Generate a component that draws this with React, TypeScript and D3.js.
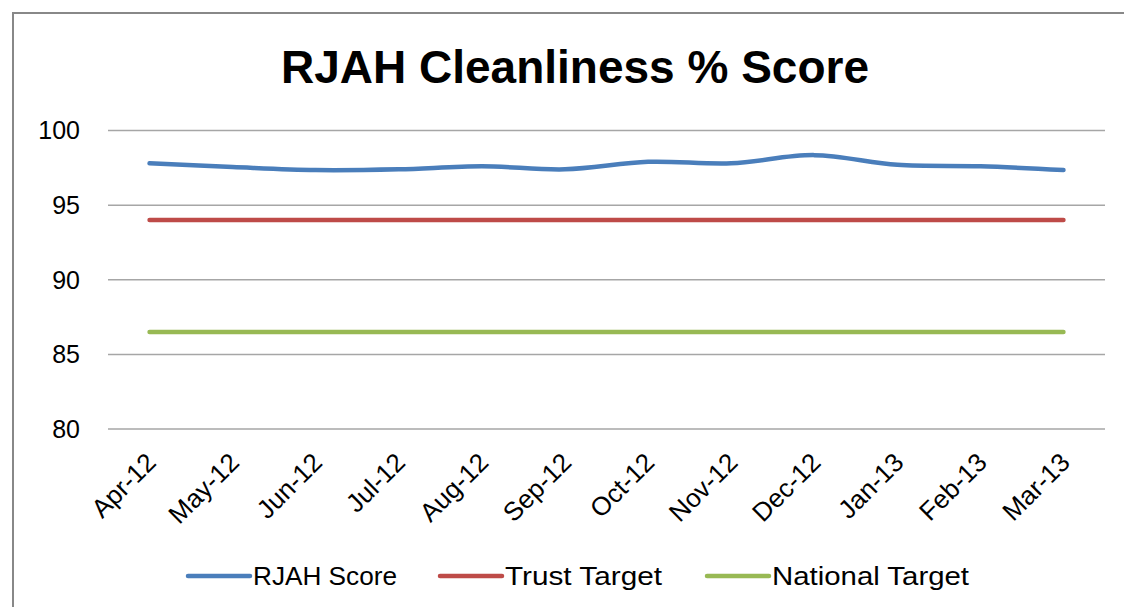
import React from "react";
import * as d3 from "d3";

const months = ["Apr-12", "May-12", "Jun-12", "Jul-12", "Aug-12", "Sep-12", "Oct-12", "Nov-12", "Dec-12", "Jan-13", "Feb-13", "Mar-13"];
const rjahScore = [97.8, 97.55, 97.35, 97.4, 97.6, 97.4, 97.9, 97.8, 98.35, 97.7, 97.6, 97.35];
const trustTarget = [94, 94, 94, 94, 94, 94, 94, 94, 94, 94, 94, 94];
const nationalTarget = [86.5, 86.5, 86.5, 86.5, 86.5, 86.5, 86.5, 86.5, 86.5, 86.5, 86.5, 86.5];
const yTicks = [80, 85, 90, 95, 100];
const seriesNames = ["RJAH Score", "Trust Target", "National Target"];
const colors = ["#4A7EBB", "#BE4B48", "#98B954"];

export default function App() {
  const W = 1124, H = 607;
  const left = 108, right = 1105, top = 130.5, bottom = 429;
  const x = d3.scaleBand<string>().domain(months).range([left, right]);
  const y = d3.scaleLinear().domain([80, 100]).range([bottom, top]);
  const cx = (m: string) => (x(m) as number) + x.bandwidth() / 2;
  const font = "'Liberation Sans', Arial, sans-serif";

  const series = [rjahScore, trustTarget, nationalTarget];
  const lineGen = (smooth: boolean) =>
    d3.line<number>()
      .x((_, i) => cx(months[i]))
      .y((v) => y(v))
      .curve(smooth ? d3.curveCatmullRom.alpha(0.5) : d3.curveLinear);

  const legendX = [188, 440, 707];
  const legendLen = [144, 157, 197];

  return (
    <svg width={W} height={H} style={{ position: "absolute", left: 0, top: 0, background: "#fff" }}>
      <rect x={0} y={0} width={W} height={H} fill="#fff" />
      <rect x={13} y={13} width={W + 20} height={H + 20} fill="none" stroke="#888" strokeWidth={2} />
      <text x={575} y={83} textAnchor="middle" fontFamily={font} fontWeight="bold" fontSize={46} fill="#000">
        RJAH Cleanliness % Score
      </text>
      {yTicks.map((t) => (
        <g key={t}>
          <line x1={left} x2={right} y1={y(t)} y2={y(t)} stroke="#A6A6A6" strokeWidth={1.5} />
          <text x={80} y={y(t)} dy="0.35em" textAnchor="end" fontFamily={font} fontSize={25} fill="#000">
            {t}
          </text>
        </g>
      ))}
      {months.map((m) => (
        <text
          key={m}
          transform={`translate(${cx(m) + 8},${bottom + 35}) rotate(-45)`}
          textAnchor="end"
          fontFamily={font}
          fontSize={26}
          fill="#000"
        >
          {m}
        </text>
      ))}
      {series.map((s, i) => (
        <path key={i} d={lineGen(i === 0)(s) as string} fill="none" stroke={colors[i]} strokeWidth={4.5} strokeLinecap="round" strokeLinejoin="round" />
      ))}
      {seriesNames.map((n, i) => (
        <g key={n}>
          <line x1={legendX[i]} x2={legendX[i] + 62} y1={576} y2={576} stroke={colors[i]} strokeWidth={4.5} strokeLinecap="round" />
          <text x={legendX[i] + 65} y={585} fontFamily={font} fontSize={26} textLength={legendLen[i]} lengthAdjust="spacingAndGlyphs" fill="#000">
            {n}
          </text>
        </g>
      ))}
    </svg>
  );
}
